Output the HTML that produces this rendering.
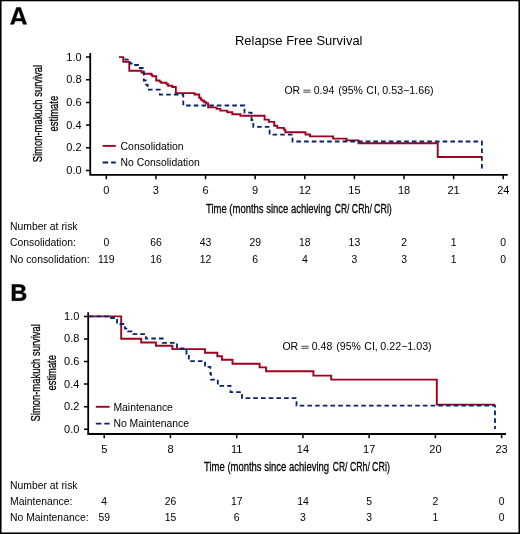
<!DOCTYPE html><html><head><meta charset="utf-8"><style>html,body{margin:0;padding:0;background:#fff;}svg{display:block;will-change:transform;}text{font-family:"Liberation Sans", sans-serif;fill:#000;}</style></head><body>
<svg width="520" height="534" viewBox="0 0 520 534">
<rect x="0" y="0" width="520" height="534" fill="#fff"/>
<rect x="0" y="0" width="1.55" height="534" fill="#000"/>
<rect x="0" y="0" width="520" height="1.3" fill="#000"/>
<rect x="518.45" y="0" width="1.55" height="534" fill="#000"/>
<rect x="0" y="532.45" width="520" height="1.55" fill="#000"/>
<path transform="translate(9.849,24.250) scale(0.01179,-0.01192)" d="M1133 0L1037.6 275H441.5L346 0H51L565 1409H913L1425 0ZM739 1192L733 1170Q723 1134 709 1088Q695 1042 537 582L502.3 480H977L942 582L803 987L760 1123Z" fill="#000" stroke="#000" stroke-width="0.5" vector-effect="non-scaling-stroke" stroke-linejoin="round"/>
<path d="M90.25,53 V174.9 M89.4,174.9 H507.7" stroke="#000" stroke-width="1.8" fill="none"/>
<text x="81.6" y="174" font-size="11" text-anchor="end">0.0</text>
<text x="81.6" y="151.3" font-size="11" text-anchor="end">0.2</text>
<text x="81.6" y="128.6" font-size="11" text-anchor="end">0.4</text>
<text x="81.6" y="105.9" font-size="11" text-anchor="end">0.6</text>
<text x="81.6" y="83.2" font-size="11" text-anchor="end">0.8</text>
<text x="81.6" y="60.5" font-size="11" text-anchor="end">1.0</text>
<path d="M85.95,170.5H90.25M85.95,147.8H90.25M85.95,125.1H90.25M85.95,102.4H90.25M85.95,79.7H90.25M85.95,57H90.25" stroke="#000" stroke-width="1.5" fill="none"/>
<text x="106.3" y="193.6" font-size="11" text-anchor="middle">0</text>
<text x="155.92" y="193.6" font-size="11" text-anchor="middle">3</text>
<text x="205.54" y="193.6" font-size="11" text-anchor="middle">6</text>
<text x="255.16" y="193.6" font-size="11" text-anchor="middle">9</text>
<text x="304.78" y="193.6" font-size="11" text-anchor="middle">12</text>
<text x="354.4" y="193.6" font-size="11" text-anchor="middle">15</text>
<text x="404.02" y="193.6" font-size="11" text-anchor="middle">18</text>
<text x="453.64" y="193.6" font-size="11" text-anchor="middle">21</text>
<text x="503.26" y="193.6" font-size="11" text-anchor="middle">24</text>
<path d="M106.3,174.9V179.2M155.92,174.9V179.2M205.54,174.9V179.2M255.16,174.9V179.2M304.78,174.9V179.2M354.4,174.9V179.2M404.02,174.9V179.2M453.64,174.9V179.2M503.26,174.9V179.2" stroke="#000" stroke-width="1.5" fill="none"/>
<text transform="translate(42.1,113.6) rotate(-90)" x="0" y="0" font-size="13.5" text-anchor="middle" stroke="#000" stroke-width="0.3" textLength="97.5" lengthAdjust="spacingAndGlyphs">Simon-makuch survival</text>
<text transform="translate(57.5,113.6) rotate(-90)" x="0" y="0" font-size="13.5" text-anchor="middle" stroke="#000" stroke-width="0.3" textLength="35.6" lengthAdjust="spacingAndGlyphs">estimate</text>
<text x="205.99" y="212.6" font-size="13.5" textLength="125.02" lengthAdjust="spacingAndGlyphs" stroke="#000" stroke-width="0.3">Time (months since achieving</text>
<text x="334.77" y="212.6" font-size="13.5" textLength="14.63" lengthAdjust="spacingAndGlyphs" stroke="#000" stroke-width="0.3">CR/</text>
<text x="351.85" y="212.6" font-size="13.5" textLength="20.05" lengthAdjust="spacingAndGlyphs" stroke="#000" stroke-width="0.3">CRh/</text>
<text x="373.95" y="212.6" font-size="13.5" textLength="17.91" lengthAdjust="spacingAndGlyphs" stroke="#000" stroke-width="0.3">CRi)</text>
<text x="284.4" y="94.2" font-size="10.5">OR</text>
<text x="313.79" y="94.2" font-size="10.5">0.94</text>
<text x="338.35" y="94.2" font-size="10.5">(95%</text>
<text x="366.37" y="94.2" font-size="10.5">CI,</text>
<text x="382.39" y="94.2" font-size="10.5" textLength="51.31" lengthAdjust="spacingAndGlyphs">0.53−1.66)</text>
<path d="M303.4,90.2H310.6M303.4,92.2H310.6" stroke="#333" stroke-width="0.9"/>
<path d="M119,57.1 H123.3 V61.9 H129.3 V70.8 H141.6 V72.5 H143.8 V73.7 H151.2 V74.7 H152.3 V76.2 H156.2 V80.5 H159.6 V81.6 H161.2 V82.8 H166.5 V84.3 H168.1 V85.8 H172.3 V87 H175.8 V93.1 H194.6 V94.5 H199.2 V97.7 H200.8 V99.6 H202.3 V100.8 H204.2 V102.3 H206.2 V103.5 H208.1 V107.4 H216.5 V108.9 H220.4 V110.6 H227.3 V112.3 H232.3 V114.2 H240.4 V115.8 H264.6 V119.6 H268.8 V121.9 H274.2 V125.8 H277.3 V127.9 H283.8 V129.6 H285.4 V132.2 H305.5 V134.5 H310 V136.4 H333.1 V138.6 H346.5 V140.4 H358.5 V143.2 H437.7 V157 H481.8" stroke="#a0001e" stroke-width="1.9" fill="none" stroke-linejoin="miter"/>
<path d="M125.4,57.1 V59.7 H130 V63.5 H133.8 V65 H138.8 V68 H143.8 V80.5 H145.8 V84.7 H147.6 V89.7 H159.8 V94.6 H183.3 V105.5 H244.5 V112.7 H251.5 V120 H253.3 V126.9 H269.6 V134.6 H292.5 V141.5 H481.9 V168.9" stroke="#06236b" stroke-width="1.8" fill="none" stroke-dasharray="4.6 3.1" stroke-dashoffset="-1.3"/>
<path d="M102.6,145.9H115.8" stroke="#a0001e" stroke-width="1.9"/>
<path d="M102.6,162.5H115.8" stroke="#06236b" stroke-width="1.8" stroke-dasharray="5.6 2.9"/>
<text x="120.6" y="149.8" font-size="10.4">Consolidation</text>
<text x="120.6" y="166.2" font-size="10.4">No Consolidation</text>
<text x="10" y="229.9" font-size="10.4">Number at risk</text>
<text x="10" y="246.3" font-size="10.4">Consolidation:</text>
<text x="10" y="262.6" font-size="10.4">No consolidation:</text>
<text x="106.3" y="246.3" font-size="10.4" text-anchor="middle">0</text>
<text x="155.92" y="246.3" font-size="10.4" text-anchor="middle">66</text>
<text x="205.54" y="246.3" font-size="10.4" text-anchor="middle">43</text>
<text x="255.16" y="246.3" font-size="10.4" text-anchor="middle">29</text>
<text x="304.78" y="246.3" font-size="10.4" text-anchor="middle">18</text>
<text x="354.4" y="246.3" font-size="10.4" text-anchor="middle">13</text>
<text x="404.02" y="246.3" font-size="10.4" text-anchor="middle">2</text>
<text x="453.64" y="246.3" font-size="10.4" text-anchor="middle">1</text>
<text x="503.26" y="246.3" font-size="10.4" text-anchor="middle">0</text>
<text x="106.3" y="262.6" font-size="10.4" text-anchor="middle">119</text>
<text x="155.92" y="262.6" font-size="10.4" text-anchor="middle">16</text>
<text x="205.54" y="262.6" font-size="10.4" text-anchor="middle">12</text>
<text x="255.16" y="262.6" font-size="10.4" text-anchor="middle">6</text>
<text x="304.78" y="262.6" font-size="10.4" text-anchor="middle">4</text>
<text x="354.4" y="262.6" font-size="10.4" text-anchor="middle">3</text>
<text x="404.02" y="262.6" font-size="10.4" text-anchor="middle">3</text>
<text x="453.64" y="262.6" font-size="10.4" text-anchor="middle">1</text>
<text x="503.26" y="262.6" font-size="10.4" text-anchor="middle">0</text>
<path transform="translate(10.392,300.650) scale(0.01137,-0.01150)" d="M1386 402Q1386 210 1242.0 105.0Q1098 0 842 0H137V1409H782Q1040 1409 1172.5 1319.5Q1305 1230 1305 1055Q1305 935 1238.5 852.5Q1172 770 1036 741Q1207 721 1296.5 633.5Q1386 546 1386 402ZM1008 1015Q1008 1110 947.5 1150.0Q887 1190 768 1190H432V841H770Q895 841 951.5 884.5Q1008 928 1008 1015ZM1090 425Q1090 623 806 623H432V219H817Q959 219 1024.5 270.5Q1090 322 1090 425Z" fill="#000" stroke="#000" stroke-width="0.5" vector-effect="non-scaling-stroke" stroke-linejoin="round"/>
<path d="M88.2,312.2 V434 M87.3,434 H506" stroke="#000" stroke-width="1.8" fill="none"/>
<text x="79.4" y="432.7" font-size="11" text-anchor="end">0.0</text>
<text x="79.4" y="410.14" font-size="11" text-anchor="end">0.2</text>
<text x="79.4" y="387.58" font-size="11" text-anchor="end">0.4</text>
<text x="79.4" y="365.02" font-size="11" text-anchor="end">0.6</text>
<text x="79.4" y="342.46" font-size="11" text-anchor="end">0.8</text>
<text x="79.4" y="319.9" font-size="11" text-anchor="end">1.0</text>
<path d="M83.9,429.2H88.2M83.9,406.64H88.2M83.9,384.08H88.2M83.9,361.52H88.2M83.9,338.96H88.2M83.9,316.4H88.2" stroke="#000" stroke-width="1.5" fill="none"/>
<text x="104.2" y="452.6" font-size="11" text-anchor="middle">5</text>
<text x="170.44" y="452.6" font-size="11" text-anchor="middle">8</text>
<text x="236.68" y="452.6" font-size="11" text-anchor="middle">11</text>
<text x="302.92" y="452.6" font-size="11" text-anchor="middle">14</text>
<text x="369.16" y="452.6" font-size="11" text-anchor="middle">17</text>
<text x="435.4" y="452.6" font-size="11" text-anchor="middle">20</text>
<text x="501.64" y="452.6" font-size="11" text-anchor="middle">23</text>
<path d="M104.2,434V438.3M170.44,434V438.3M236.68,434V438.3M302.92,434V438.3M369.16,434V438.3M435.4,434V438.3M501.64,434V438.3" stroke="#000" stroke-width="1.5" fill="none"/>
<text transform="translate(40,372.8) rotate(-90)" x="0" y="0" font-size="13.5" text-anchor="middle" stroke="#000" stroke-width="0.3" textLength="97.3" lengthAdjust="spacingAndGlyphs">Simon-makuch survival</text>
<text transform="translate(55.6,372.8) rotate(-90)" x="0" y="0" font-size="13.5" text-anchor="middle" stroke="#000" stroke-width="0.3" textLength="35.4" lengthAdjust="spacingAndGlyphs">estimate</text>
<text x="204.04" y="471.2" font-size="13.5" textLength="125.02" lengthAdjust="spacingAndGlyphs" stroke="#000" stroke-width="0.3">Time (months since achieving</text>
<text x="332.82" y="471.2" font-size="13.5" textLength="14.63" lengthAdjust="spacingAndGlyphs" stroke="#000" stroke-width="0.3">CR/</text>
<text x="349.90" y="471.2" font-size="13.5" textLength="20.05" lengthAdjust="spacingAndGlyphs" stroke="#000" stroke-width="0.3">CRh/</text>
<text x="372.00" y="471.2" font-size="13.5" textLength="17.91" lengthAdjust="spacingAndGlyphs" stroke="#000" stroke-width="0.3">CRi)</text>
<text x="282.4" y="350.3" font-size="10.5">OR</text>
<text x="311.79" y="350.3" font-size="10.5">0.48</text>
<text x="336.35" y="350.3" font-size="10.5">(95%</text>
<text x="364.37" y="350.3" font-size="10.5">CI,</text>
<text x="380.39" y="350.3" font-size="10.5" textLength="51.31" lengthAdjust="spacingAndGlyphs">0.22−1.03)</text>
<path d="M301.4,346.3H308.6M301.4,348.3H308.6" stroke="#333" stroke-width="0.9"/>
<path d="M88,316.4 H121.2 V338.8 H141.2 V342.5 H155.9 V345.7 H172.4 V349.1 H205 V352.7 H217.3 V356.2 H221.9 V359.8 H232.5 V363.7 H259.6 V367.4 H266 V371.2 H313.4 V375.6 H331.2 V379.6 H436.8 V404.6 H495" stroke="#a0001e" stroke-width="1.9" fill="none" stroke-linejoin="miter"/>
<path d="M88,316.4 H111 V318 H117 V324 H125 V328.6 H128 V331.4 H132.3 V334.1 H145.8 V338.5 H162.7 V342.9 H177 V348.5 H186.5 V354 H188.8 V361.2 H205 V366.9 H210.3 V373.5 H211 V379.6 H217.8 V385.8 H230.5 V392.2 H242 V398.2 H296.5 V405.7 H495 V429" stroke="#06236b" stroke-width="1.8" fill="none" stroke-dasharray="4.6 3.1" stroke-dashoffset="-0.7"/>
<path d="M95.8,406.8H109.6" stroke="#a0001e" stroke-width="1.9"/>
<path d="M95.8,423.7H109.6" stroke="#06236b" stroke-width="1.8" stroke-dasharray="5.6 2.9"/>
<text x="113.4" y="410.8" font-size="10.4">Maintenance</text>
<text x="113.4" y="427.2" font-size="10.4">No Maintenance</text>
<text x="10" y="488.8" font-size="10.4">Number at risk</text>
<text x="10" y="504.8" font-size="10.4">Maintenance:</text>
<text x="10" y="521.2" font-size="10.4">No Maintenance:</text>
<text x="104.2" y="504.8" font-size="10.4" text-anchor="middle">4</text>
<text x="170.44" y="504.8" font-size="10.4" text-anchor="middle">26</text>
<text x="236.68" y="504.8" font-size="10.4" text-anchor="middle">17</text>
<text x="302.92" y="504.8" font-size="10.4" text-anchor="middle">14</text>
<text x="369.16" y="504.8" font-size="10.4" text-anchor="middle">5</text>
<text x="435.4" y="504.8" font-size="10.4" text-anchor="middle">2</text>
<text x="501.64" y="504.8" font-size="10.4" text-anchor="middle">0</text>
<text x="104.2" y="521.2" font-size="10.4" text-anchor="middle">59</text>
<text x="170.44" y="521.2" font-size="10.4" text-anchor="middle">15</text>
<text x="236.68" y="521.2" font-size="10.4" text-anchor="middle">6</text>
<text x="302.92" y="521.2" font-size="10.4" text-anchor="middle">3</text>
<text x="369.16" y="521.2" font-size="10.4" text-anchor="middle">3</text>
<text x="435.4" y="521.2" font-size="10.4" text-anchor="middle">1</text>
<text x="501.64" y="521.2" font-size="10.4" text-anchor="middle">0</text>
<text x="235" y="44.9" font-size="13" textLength="127.5" lengthAdjust="spacingAndGlyphs">Relapse Free Survival</text>
</svg></body></html>
